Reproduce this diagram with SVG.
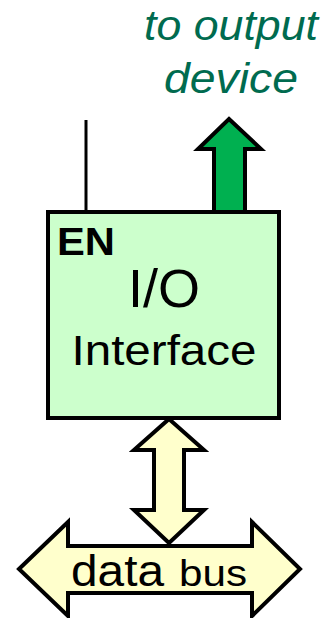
<svg xmlns="http://www.w3.org/2000/svg" width="331" height="618" viewBox="0 0 331 618">
<style>
.txt{font-family:"Liberation Sans",Arial,sans-serif;fill:#000}
.out{font-family:"Liberation Sans",Arial,sans-serif;font-style:italic;fill:#006b4f;font-size:42px;text-anchor:middle}
.shape{stroke:#000;stroke-width:4;stroke-linejoin:miter}
</style>
<rect width="331" height="618" fill="#fff"/>
<g id="label-output">
<text class="out" x="231" y="40" textLength="174" lengthAdjust="spacingAndGlyphs">to output</text>
<text class="out" x="231" y="93" textLength="134" lengthAdjust="spacingAndGlyphs">device</text>
</g>
<g id="connectors">
<line id="en-line" x1="86" y1="120" x2="86" y2="212" stroke="#000" stroke-width="3"/>
<polygon id="out-arrow" class="shape" fill="#00b050" points="229,119 261,149 245,149 245,212 214,212 214,149 198,149"/>
<polygon id="bus-link" class="shape" fill="#ffffcc" points="169,419 204,450 184,450 184,510 204,510 169,543 134,510 154,510 154,450 134,450"/>
</g>
<g id="io-interface">
<rect x="48" y="212" width="231" height="206" fill="#ccffcc" stroke="#000" stroke-width="4"/>
<text class="txt" x="57" y="255" font-size="38" font-weight="bold" textLength="58" lengthAdjust="spacingAndGlyphs">EN</text>
<text class="txt" x="164" y="307" font-size="54" text-anchor="middle">I/O</text>
<text class="txt" x="164" y="365" font-size="43" text-anchor="middle" textLength="185" lengthAdjust="spacingAndGlyphs">Interface</text>
</g>
<g id="data-bus">
<polygon class="shape" fill="#ffffcc" points="19,569 68,522 68,546 252,546 252,522 300,569 252,616 252,593 68,593 68,616"/>
<text class="txt" x="71" y="586" font-size="44" textLength="93" lengthAdjust="spacingAndGlyphs">data</text>
<text class="txt" x="179" y="586" font-size="36" textLength="68" lengthAdjust="spacingAndGlyphs">bus</text>
</g>
</svg>
